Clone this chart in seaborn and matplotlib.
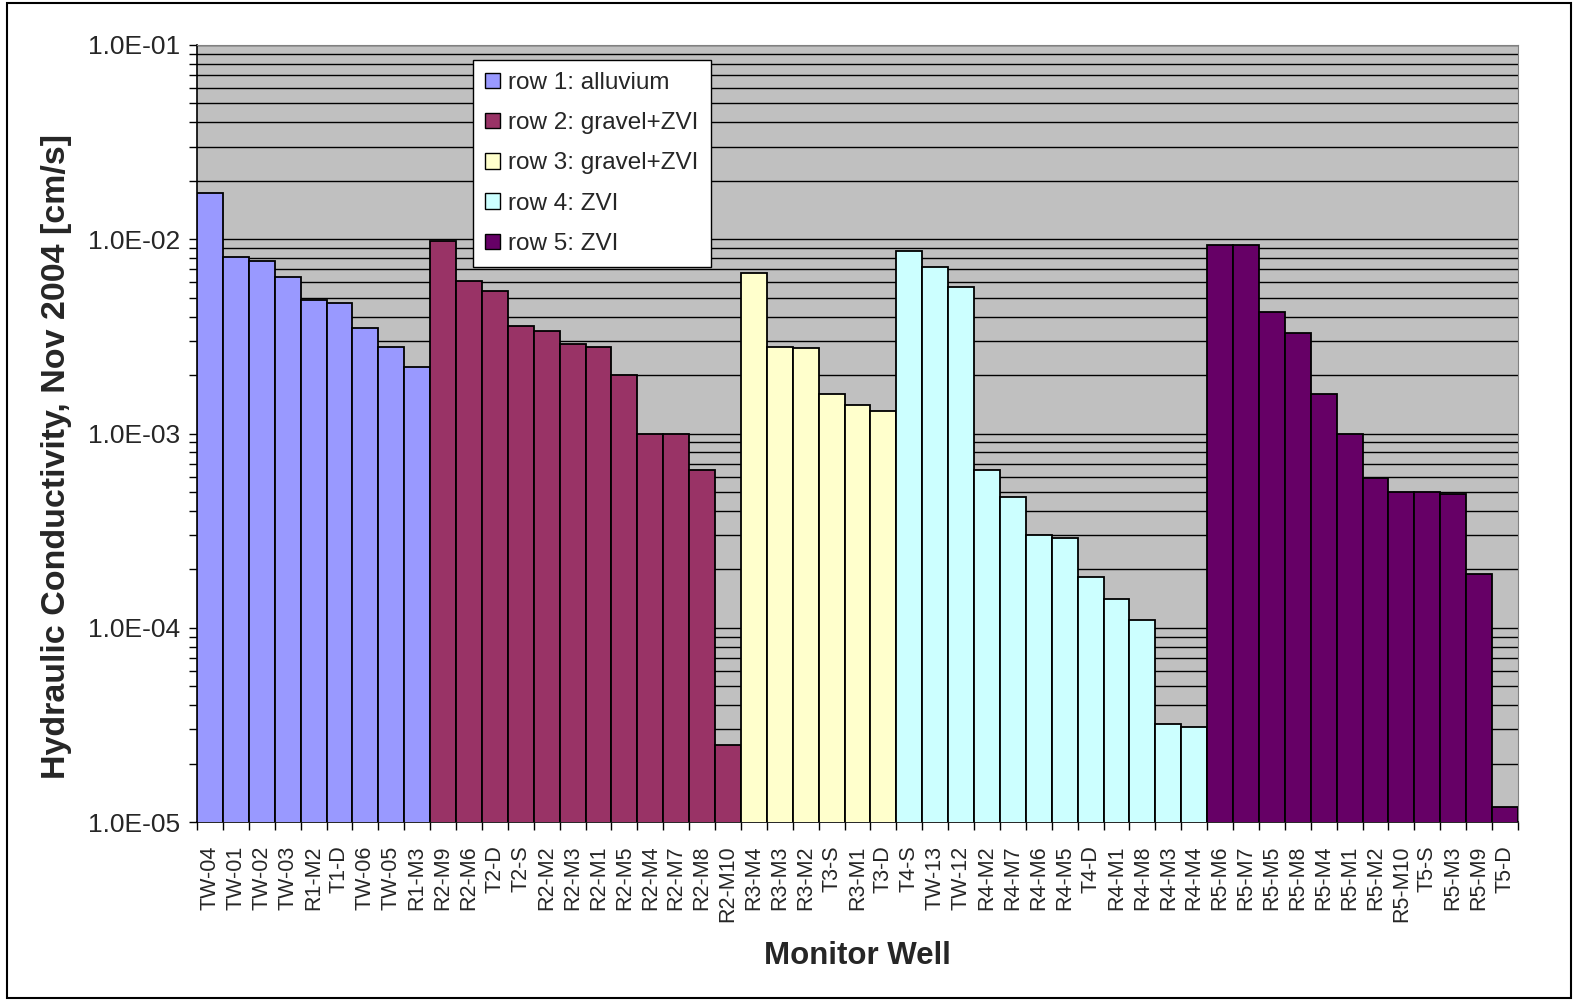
import matplotlib
matplotlib.use("Agg")
import matplotlib.pyplot as plt
import matplotlib.ticker as mticker
import seaborn as sns
import pandas as pd
import numpy as np

wells = ["TW-04", "TW-01", "TW-02", "TW-03", "R1-M2", "T1-D", "TW-06", "TW-05", "R1-M3",
         "R2-M9", "R2-M6", "T2-D", "T2-S", "R2-M2", "R2-M3", "R2-M1", "R2-M5", "R2-M4",
         "R2-M7", "R2-M8", "R2-M10",
         "R3-M4", "R3-M3", "R3-M2", "T3-S", "R3-M1", "T3-D",
         "T4-S", "TW-13", "TW-12", "R4-M2", "R4-M7", "R4-M6", "R4-M5", "T4-D", "R4-M1",
         "R4-M8", "R4-M3", "R4-M4",
         "R5-M6", "R5-M7", "R5-M5", "R5-M8", "R5-M4", "R5-M1", "R5-M2", "R5-M10", "T5-S",
         "R5-M3", "R5-M9", "T5-D"]

row1_k = [1.73e-2, 8.1e-3, 7.7e-3, 6.4e-3, 4.86e-3, 4.7e-3, 3.5e-3, 2.8e-3, 2.2e-3]
row2_k = [9.8e-3, 6.1e-3, 5.4e-3, 3.56e-3, 3.36e-3, 2.9e-3, 2.8e-3, 2.0e-3, 1.0e-3,
          1.0e-3, 6.5e-4, 2.5e-5]
row3_k = [6.7e-3, 2.8e-3, 2.75e-3, 1.6e-3, 1.4e-3, 1.3e-3]
row4_k = [8.7e-3, 7.2e-3, 5.7e-3, 6.5e-4, 4.7e-4, 3.0e-4, 2.9e-4, 1.83e-4, 1.4e-4,
          1.1e-4, 3.2e-5, 3.1e-5]
row5_k = [9.3e-3, 9.3e-3, 4.2e-3, 3.3e-3, 1.6e-3, 1.0e-3, 5.9e-4, 5.0e-4, 5.0e-4,
          4.9e-4, 1.9e-4, 1.2e-5]

row_names = ["row 1: alluvium", "row 2: gravel+ZVI", "row 3: gravel+ZVI",
             "row 4: ZVI", "row 5: ZVI"]
row_colors = ["#9999FF", "#993366", "#FFFFCC", "#CCFFFF", "#660066"]

all_k = [row1_k, row2_k, row3_k, row4_k, row5_k]
df = pd.DataFrame({
    "well": wells,
    "k": sum(all_k, []),
    "row": sum([[n] * len(v) for n, v in zip(row_names, all_k)], []),
})

sns.set_style("white")
plt.rcParams["font.family"] = ["Liberation Sans", "DejaVu Sans"]

fig = plt.figure(figsize=(15.75, 10), dpi=100)
ax = fig.add_axes([0.1251, 0.178, 0.8387, 0.777])
ax.set_facecolor("#C0C0C0")

sns.barplot(data=df, x="well", y="k", hue="row", order=wells, hue_order=row_names,
            palette=row_colors, dodge=False, width=1.0, edgecolor="black",
            linewidth=1.3, saturation=1, ax=ax, zorder=3)
ax.set_yscale("log")
ax.set_ylim(1e-5, 1e-1)
ax.set_xlim(-0.5, len(wells) - 0.5)

# gridlines at every log tick
ax.yaxis.set_major_locator(mticker.LogLocator(base=10, numticks=10))
ax.yaxis.set_minor_locator(mticker.LogLocator(base=10, subs=np.arange(2, 10), numticks=20))
ax.yaxis.set_minor_formatter(mticker.NullFormatter())
ax.yaxis.set_major_formatter(mticker.FuncFormatter(lambda v, p: "%.1E" % v))
ax.grid(True, which="both", axis="y", color="black", linewidth=1.0, zorder=0)
ax.set_axisbelow(True)

ax.tick_params(axis="y", which="major", direction="out", length=6, width=1,
               labelsize=19, left=True, color="black", pad=6)
ax.tick_params(axis="y", which="minor", direction="out", length=6, width=1,
               left=True, color="black")

ax.set_xticks(np.arange(len(wells)))
ax.set_xticklabels(wells, rotation=90, fontsize=15.5)
ax.set_xticks(np.arange(len(wells) + 1) - 0.5, minor=True)
ax.tick_params(axis="x", which="major", length=0, pad=17)
ax.tick_params(axis="x", which="minor", direction="out", length=6, width=1,
               bottom=True, color="black")

for side in ["top", "right"]:
    ax.spines[side].set_color("#808080")
for side in ["left", "bottom"]:
    ax.spines[side].set_color("black")
    ax.spines[side].set_linewidth(1.2)

ax.set_ylabel("Hydraulic Conductivity, Nov 2004 [cm/s]", fontsize=24.5,
              fontweight="bold")
ax.yaxis.set_label_coords(-0.0946, 0.47)
ax.set_xlabel("Monitor Well", fontsize=22.5, fontweight="bold")
ax.xaxis.set_label_coords(0.5, -0.153)

leg = ax.legend(loc="upper left", bbox_to_anchor=(0.209, 0.981), fontsize=17.5,
                frameon=True, fancybox=False, edgecolor="black", framealpha=1,
                handlelength=0.6, handleheight=0.6, handletextpad=0.35,
                labelspacing=0.75, borderpad=0.5, borderaxespad=0)
leg.get_frame().set_linewidth(1.0)
for h in leg.legend_handles:
    h.set_edgecolor("black")
    h.set_linewidth(1.0)

# outer border around the whole chart
fig.patches.append(plt.Rectangle((0.0045, 0.002), 0.993, 0.995, transform=fig.transFigure,
                                 fill=False, edgecolor="black", linewidth=1.5))

fig.savefig("out.png", dpi=100)
